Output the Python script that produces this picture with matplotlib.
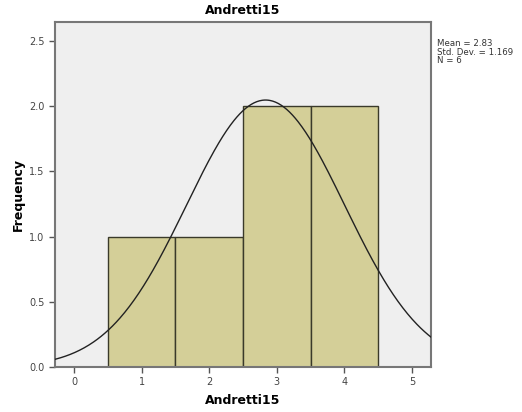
import numpy as np
import matplotlib
matplotlib.use("Agg")
import matplotlib.pyplot as plt

# Observed scores for Andretti15
values = [1, 2, 3, 3, 4, 4]
bin_edges = [0.5, 1.5, 2.5, 3.5, 4.5]
x_ticks = [0, 1, 2, 3, 4, 5]
y_ticks = [0.0, 0.5, 1.0, 1.5, 2.0, 2.5]

mean = np.mean(values)
sd = np.std(values, ddof=1)
n = len(values)

fig = plt.figure(figsize=(5.22, 4.12), dpi=100)
ax = fig.add_axes([0.1054, 0.1092, 0.7203, 0.8374])
ax.set_facecolor("#efefef")

ax.hist(values, bins=bin_edges, color="#d4cf98", edgecolor="#3a3a2a",
        linewidth=1.0, zorder=2)

# Normal curve scaled to counts
xs = np.linspace(-0.28, 5.28, 400)
width = bin_edges[1] - bin_edges[0]
ys = n * width / (sd * np.sqrt(2 * np.pi)) * np.exp(-0.5 * ((xs - mean) / sd) ** 2)
ax.plot(xs, ys, color="#222222", linewidth=1.0, zorder=3)

ax.set_xlim(-0.28, 5.28)
ax.set_ylim(0, 2.646)
ax.set_xticks(x_ticks)
ax.set_xticklabels([str(t) for t in x_ticks])
ax.set_yticks(y_ticks)
ax.set_yticklabels([f"{t:.1f}" for t in y_ticks])
ax.tick_params(axis="both", labelsize=7, colors="#555555", length=4, width=1)
for lbl in ax.get_xticklabels() + ax.get_yticklabels():
    lbl.set_color("#444444")

for side in ["left", "bottom", "right", "top"]:
    ax.spines[side].set_color("#777777")
    ax.spines[side].set_linewidth(1.5)

ax.set_xlabel("Andretti15", fontsize=9, fontweight="bold", labelpad=5)
ax.set_ylabel("Frequency", fontsize=9, fontweight="bold", labelpad=3)
ax.set_title("Andretti15", fontsize=9, fontweight="bold", pad=6)

fig.text(0.837, 0.905, f"Mean = {mean:.2f}\nStd. Dev. = {sd:.3f}\nN = {n}",
         fontsize=6.2, va="top", ha="left", linespacing=0.95, color="#333333")

fig.savefig("out.png", dpi=100)
